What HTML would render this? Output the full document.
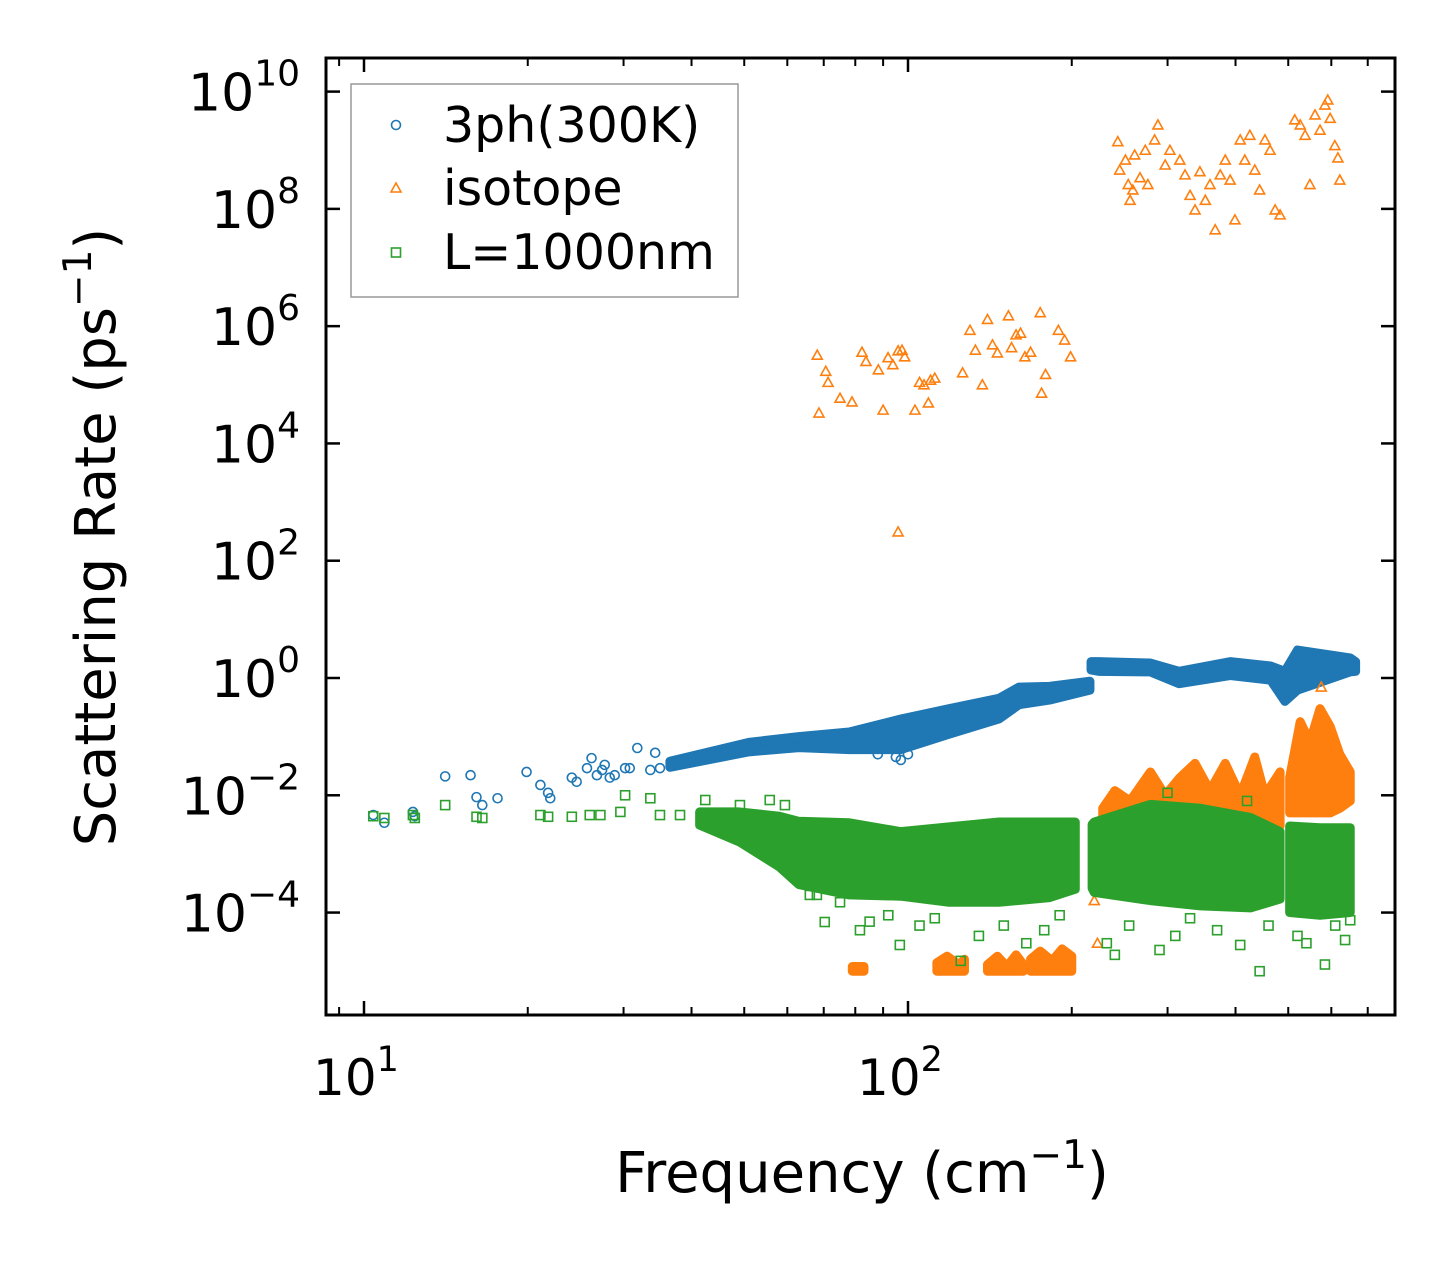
<!DOCTYPE html>
<html><head><meta charset="utf-8"><style>
html,body{margin:0;padding:0;background:#fff}
svg{display:block}
text{font-family:"DejaVu Sans","Liberation Sans",sans-serif;fill:#000}
</style></head><body>
<svg id="chart" width="1455" height="1265" viewBox="0 0 1455 1265" xmlns="http://www.w3.org/2000/svg">
<defs><clipPath id="plotclip"><rect x="326" y="58" width="1069" height="957"/></clipPath></defs>
<rect x="326" y="58" width="1069" height="957" fill="#fff"/>
<g id="data" clip-path="url(#plotclip)"></g>
<g id="axes"></g>
<text transform="translate(115,537) rotate(-90)" text-anchor="middle" font-size="56">Scattering Rate (ps<tspan font-size="39" dy="-24">−1</tspan><tspan dy="24">)</tspan></text>
<text x="862" y="1192" text-anchor="middle" font-size="56">Frequency (cm<tspan font-size="39" dy="-24">−1</tspan><tspan dy="24">)</tspan></text>
<g>
<rect x="351" y="84" width="387" height="213" fill="#fff" fill-opacity="0.8" stroke="#999" stroke-width="1.5"/>
<circle cx="396" cy="125" r="4.5" fill="none" stroke="#1f77b4" stroke-width="1.6"/>
<text x="443" y="142" font-size="49">3ph(300K)</text>
<path d="M396,183 L401,192 L391,192 Z" fill="none" stroke="#ff7f0e" stroke-width="1.6"/>
<text x="443" y="205" font-size="49">isotope</text>
<rect x="391.5" y="248" width="9" height="9" fill="none" stroke="#2ca02c" stroke-width="1.6"/>
<text x="443" y="269" font-size="49">L=1000nm</text>
</g>
</svg>
<script>
// ---- data ----
const blueF = [10.4,10.9,12.3,12.4,14.1,15.7,16.1,16.5,17.6,19.9,21.1,21.8,22.0,24.1,24.6,25.7,26.2,26.8,27.4,27.7,28.3,28.9,30.2,30.8,31.8,33.6,34.3,35.0,88,95,97,100];
const blueV = [4.6e-3,3.4e-3,5.2e-3,4.4e-3,0.021,0.022,9.3e-3,6.8e-3,8.9e-3,0.025,0.015,0.011,8.9e-3,0.020,0.017,0.029,0.043,0.022,0.027,0.033,0.020,0.022,0.029,0.029,0.064,0.027,0.053,0.029,0.05,0.045,0.04,0.05];
const blueBandF  = [36.5,51,63,78,97,119,147,160,182,216,null,217,224,279,315,391,464,493,520,650,665];
const blueBandLo = [0.03,0.055,0.065,0.06,0.06,0.11,0.2,0.35,0.42,0.62,null,1.37,1.3,1.27,0.8,1.1,0.92,0.4,0.62,1.27,1.3];
const blueBandHi = [0.038,0.08,0.1,0.12,0.2,0.3,0.45,0.7,0.72,0.88,null,1.9,1.9,1.8,1.3,1.9,1.6,1.3,3.0,2.2,1.9];

const isoF = [68.1,70.6,71.3,68.6,75.0,78.9,82.3,83.7,88.2,90.0,91.9,93.8,95.9,97.5,98.6,103,105,107,109,110,112,126,130,133,137,140,143,146,153,155,158,161,164,168,175,179,176,189,194,199,95.9,
 243,245,251,254,256,259,261,267,273,276,284,288,297,303,316,323,330,337,344,352,359,367,375,383,391,399,408,416,425,434,443,453,463,473,483,514,526,537,548,560,572,584,591,597,609,617,622,223,220,575];
const isoV = [3.2e5,1.7e5,1.1e5,3.3e4,5.9e4,5.1e4,3.6e5,2.5e5,1.8e5,3.7e4,2.9e5,2.2e5,3.8e5,3.9e5,3.0e5,3.7e4,1.1e5,1.0e5,4.9e4,1.2e5,1.3e5,1.6e5,8.5e5,3.9e5,1.0e5,1.3e6,4.8e5,3.5e5,1.5e6,4.3e5,7.1e5,7.6e5,3.0e5,3.6e5,1.7e6,1.5e5,7.2e4,8.5e5,5.8e5,3.0e5,310,
 1.4e9,4.6e8,6.8e8,2.6e8,1.4e8,2.1e8,8.3e8,3.4e8,1.0e9,2.6e8,1.5e9,2.7e9,5.6e8,1.0e9,6.8e8,3.8e8,1.7e8,9.6e7,4.3e8,1.4e8,2.6e8,4.4e7,3.8e8,6.8e8,3.1e8,6.5e7,1.5e9,6.8e8,1.8e9,4.6e8,2.1e8,1.5e9,1.0e9,9.6e7,7.9e7,3.3e9,2.7e9,1.8e9,2.6e8,4.0e9,2.2e9,5.9e9,7.2e9,3.5e9,1.2e9,7.4e8,3.1e8,3e-5,1.6e-4,0.7];
const isoBandF  = [228,240,256,279,297,316,337,359,383,408,434,453,483,null,503,526,548,572,597,622,650];
const isoBandLo = [0.003,0.003,0.003,0.003,0.003,0.003,0.003,0.003,0.003,0.003,0.003,0.003,0.003,null,0.005,0.005,0.005,0.005,0.005,0.006,0.008];
const isoBandHi = [0.006,0.012,0.008,0.025,0.01,0.02,0.035,0.012,0.035,0.01,0.045,0.01,0.025,null,0.02,0.18,0.08,0.3,0.15,0.05,0.025];
const isoLowF  = [79,83,null,113,118,124,127,null,140,146,152,158,163,null,168,175,184,192,200];
const isoLowLo = [1e-5,1e-5,null,1e-5,1e-5,1e-5,1e-5,null,1e-5,1e-5,1e-5,1e-5,1e-5,null,1e-5,1e-5,1e-5,1e-5,1e-5];
const isoLowHi = [1.2e-5,1.2e-5,null,1.4e-5,1.8e-5,1.3e-5,1.6e-5,null,1.3e-5,1.8e-5,1.2e-5,1.9e-5,1.3e-5,null,1.6e-5,2.2e-5,1.5e-5,2.4e-5,1.8e-5];

const bndF = [10.4,10.9,12.3,12.4,14.1,16.1,16.5,21.1,21.8,24.1,26.0,27.2,29.6,30.2,33.6,35.0,38.1,42.4,49.1,55.7,59.4,63.2,66.0,70.3,81.6,96.6,125,240,443,584,636,650,408,290,
 62,68,75,85,92,105,112,135,150,165,178,190,232,255,310,330,370,460,520,540,610,300,420];
const bndV = [4.4e-3,4.1e-3,4.6e-3,4.1e-3,6.8e-3,4.3e-3,4.1e-3,4.6e-3,4.3e-3,4.3e-3,4.6e-3,4.6e-3,5.2e-3,0.010,8.9e-3,4.6e-3,4.6e-3,8.3e-3,6.8e-3,8.3e-3,6.8e-3,3.6e-4,2.0e-4,6.9e-5,5.0e-5,2.8e-5,1.5e-5,1.9e-5,1.0e-5,1.3e-5,3.4e-5,7.4e-5,2.8e-5,2.3e-5,
 4e-4,2e-4,1.5e-4,7e-5,9e-5,6e-5,8e-5,4e-5,6e-5,3e-5,5e-5,9e-5,3e-5,6e-5,4e-5,8e-5,5e-5,6e-5,4e-5,3e-5,6e-5,0.011,0.008];
const bndBandF  = [41.4,49,58,63,78,97,119,147,182,203,null,218,220,279,345,426,483,null,503,572,650];
const bndBandLo = [3.1e-3,1.6e-3,6e-4,3e-4,2e-4,1.9e-4,1.5e-4,1.5e-4,1.8e-4,2.5e-4,null,2.6e-4,2.2e-4,1.6e-4,1.3e-4,1.2e-4,1.7e-4,null,1.0e-4,9e-5,1.0e-4];
const bndBandHi = [5.2e-3,5.2e-3,4.4e-3,3.6e-3,3.4e-3,2.4e-3,2.9e-3,3.5e-3,3.5e-3,3.5e-3,null,3.2e-3,3.5e-3,7e-3,6e-3,4.2e-3,2.4e-3,null,3.0e-3,2.8e-3,2.8e-3];

const yTickExp = [-4,-2,0,2,4,6,8,10];
const xTickExp = [1,2];
const xMinor = [9,20,30,40,50,60,70,80,90,200,300,400,500,600,700];

// ---- axes functions ----
const X0=326,X1=1395,Y0=58,Y1=1015;
function xs(f){return 364+(Math.log10(f)-1)*544;}
function ys(v){return 678-Math.log10(v)*58.64;}
const NS='http://www.w3.org/2000/svg';
const dataG=document.getElementById('data'), axG=document.getElementById('axes');
function mk(tag,attrs,parent){const e=document.createElementNS(NS,tag);for(const k in attrs)e.setAttribute(k,attrs[k]);parent.appendChild(e);return e;}

function drawBand(F,Lo,Hi,color,name){
  let segs=[],cur=[];
  for(let i=0;i<F.length;i++){ if(F[i]===null){if(cur.length)segs.push(cur);cur=[];} else cur.push(i); }
  if(cur.length)segs.push(cur);
  segs.forEach(s=>{
    let pts=s.map(i=>xs(F[i])+','+ys(Hi[i]));
    pts=pts.concat(s.slice().reverse().map(i=>xs(F[i])+','+ys(Lo[i])));
    const p=mk('polygon',{points:pts.join(' '),fill:color,stroke:color,'stroke-width':9,'stroke-linejoin':'round'},dataG);
    
    
  });
}
function circ(f,v){const c=mk('circle',{cx:xs(f),cy:ys(v),r:4.5,fill:'none',stroke:'#1f77b4','stroke-width':1.6},dataG);
  
  }
function tri(f,v){const x=xs(f),y=ys(v);const p=mk('path',{d:`M${x},${y-5} L${x+5},${y+4} L${x-5},${y+4} Z`,fill:'none',stroke:'#ff7f0e','stroke-width':1.6},dataG);
  
  }
function sq(f,v){const r=mk('rect',{x:xs(f)-4.5,y:ys(v)-4.5,width:9,height:9,fill:'none',stroke:'#2ca02c','stroke-width':1.6},dataG);
  
  }

drawBand(blueBandF,blueBandLo,blueBandHi,'#1f77b4','band-3ph');
blueF.forEach((f,i)=>circ(f,blueV[i]));
drawBand(isoBandF,isoBandLo,isoBandHi,'#ff7f0e','band-isotope-high');
drawBand(isoLowF,isoLowLo,isoLowHi,'#ff7f0e','band-isotope-low');
isoF.forEach((f,i)=>tri(f,isoV[i]));
drawBand(bndBandF,bndBandLo,bndBandHi,'#2ca02c','band-boundary');
bndF.forEach((f,i)=>sq(f,bndV[i]));

// ---- spines & ticks ----
const sp=mk('rect',{x:X0,y:Y0,width:X1-X0,height:Y1-Y0,fill:'none',stroke:'#000','stroke-width':3},axG);


function line(x1,y1,x2,y2,w,name){const l=mk('line',{x1,y1,x2,y2,stroke:'#000','stroke-width':w},axG);
  
  }
yTickExp.forEach(e=>{
  const y=ys(Math.pow(10,e));
  line(X0,y,X0+14,y,2.5,'y-major-tick');
  line(X1,y,X1-14,y,2.5,'y-major-tick-right');
  const t=mk('text',{x:300,y:y+19,'text-anchor':'end','font-size':52},axG);
  
  
  t.innerHTML='10<tspan font-size="36" dy="-25">'+(e<0?'−'+(-e):e)+'</tspan>';
});
xTickExp.forEach(e=>{
  const x=xs(Math.pow(10,e));
  line(x,Y1,x,Y1-14,2.5,'x-major-tick');
  line(x,Y0,x,Y0+14,2.5,'x-major-tick-top');
  const t=mk('text',{x:x-8,y:1095,'text-anchor':'middle','font-size':50},axG);
  
  
  t.innerHTML='10<tspan font-size="35" dy="-24">'+e+'</tspan>';
});
xMinor.forEach(f=>{
  const x=xs(f);
  line(x,Y1,x,Y1-8,2,'x-minor-tick');
  line(x,Y0,x,Y0+8,2,'x-minor-tick-top');
});
</script>
</body></html>
